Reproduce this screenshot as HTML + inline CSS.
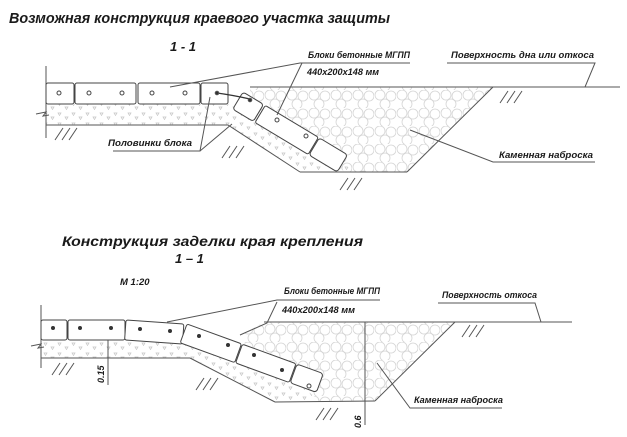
<!DOCTYPE html>
<html><head><meta charset="utf-8"><style>
html,body{margin:0;padding:0;background:#fff;}
svg{display:block;}
text{font-family:"Liberation Sans",sans-serif;font-weight:bold;font-style:italic;fill:#1a1a1a;}
</style></head><body>
<svg width="627" height="437" viewBox="0 0 627 437" xmlns="http://www.w3.org/2000/svg">
<defs>
<pattern id="rock" width="22" height="18" patternUnits="userSpaceOnUse">
<circle cx="6" cy="5" r="5" fill="none" stroke="#d4d4d4" stroke-width="0.8"/>
<circle cx="17" cy="6" r="5" fill="none" stroke="#d4d4d4" stroke-width="0.8"/>
<circle cx="11" cy="14" r="5" fill="none" stroke="#d4d4d4" stroke-width="0.8"/>
</pattern>
<pattern id="grav" width="14" height="10" patternUnits="userSpaceOnUse">
<path d="M2 3 l3 0 l-1.5 2.5z M9 7 l3 0 l-1.5 2.5z" fill="none" stroke="#c4c4c4" stroke-width="0.7"/>
</pattern>
</defs>
<g stroke="#555" stroke-width="1" fill="none">
<!-- TOP DIAGRAM -->
<polygon points="250,87 493,87 407,172 345,172 300,140 262,112 250,98" fill="url(#rock)" stroke="none"/>
<polygon points="46,104 228,104 240,108 350,168 345,172 300,172 228,125 46,125" fill="url(#grav)" stroke="none"/>
<line x1="46" y1="66" x2="46" y2="138"/>
<path d="M36 114 l10 -2 l-3 4 l6 -1"/>
<line x1="46" y1="125" x2="228" y2="125"/>
<line x1="228" y1="125" x2="300" y2="172"/>
<line x1="300" y1="172" x2="407" y2="172"/>
<line x1="407" y1="172" x2="493" y2="87"/>
<line x1="250" y1="87" x2="620" y2="87"/>
<g fill="#fff" stroke="#444">
<rect x="46" y="83" width="28" height="21" rx="2"/>
<rect x="75" y="83" width="61" height="21" rx="2"/>
<rect x="138" y="83" width="62" height="21" rx="2"/>
<rect x="201" y="83" width="27" height="21" rx="2"/>
<g transform="translate(243,92) rotate(31)">
<rect x="0" y="0" width="24" height="20" rx="3"/>
<rect x="26" y="0" width="62" height="20" rx="2"/>
<rect x="89" y="0" width="33" height="20" rx="3"/>
</g>
</g>
<g fill="#fff" stroke="#444">
<circle cx="59" cy="93" r="2"/><circle cx="89" cy="93" r="2"/><circle cx="122" cy="93" r="2"/>
<circle cx="152" cy="93" r="2"/><circle cx="185" cy="93" r="2"/>
<circle cx="277" cy="120" r="2"/><circle cx="306" cy="136" r="2"/>
</g>
<path d="M217 93 q15 2 33 6" stroke="#333" stroke-width="1.3"/>
<circle cx="217" cy="93" r="1.8" fill="#333"/><circle cx="250" cy="100" r="1.8" fill="#333"/>
<!-- hatches -->
<path d="M55 140 l8 -12 M62 140 l8 -12 M69 140 l8 -12"/>
<path d="M222 158 l8 -12 M229 158 l8 -12 M236 158 l8 -12"/>
<path d="M340 190 l8 -12 M347 190 l8 -12 M354 190 l8 -12"/>
<path d="M500 103 l8 -12 M507 103 l8 -12 M514 103 l8 -12"/>
<!-- leaders -->
<polyline points="410,63 300,63 170,87"/>
<line x1="302" y1="63" x2="277" y2="115"/>
<polyline points="447,63 595,63 585,87"/>
<polyline points="113,151 200,151 210,97"/>
<line x1="200" y1="151" x2="232" y2="124"/>
<polyline points="595,162 493,162 410,130"/>

<!-- BOTTOM DIAGRAM -->
<polygon points="264,322 455,322 375,401 318,401 300,380 250,352 240,336" fill="url(#rock)" stroke="none"/>
<polygon points="41,340 184,340 240,356 300,385 320,401 275,402 190,358 41,358" fill="url(#grav)" stroke="none"/>
<line x1="41" y1="305" x2="41" y2="368"/>
<path d="M31 346 l10 -2 l-3 4 l6 -1"/>
<line x1="41" y1="358" x2="190" y2="358"/>
<line x1="190" y1="358" x2="275" y2="402"/>
<line x1="275" y1="402" x2="375" y2="401"/>
<line x1="375" y1="401" x2="455" y2="322"/>
<line x1="264" y1="322" x2="572" y2="322"/>
<g fill="#fff" stroke="#444">
<rect x="41" y="320" width="26" height="20" rx="2"/>
<rect x="68" y="320" width="57" height="20" rx="2"/>
<g transform="translate(126,320) rotate(4)"><rect x="0" y="0" width="58" height="20" rx="2"/></g>
<g transform="translate(187,324) rotate(20)">
<rect x="0" y="0" width="58" height="20" rx="2"/>
<rect x="59" y="0" width="57" height="20" rx="2"/>
<rect x="117" y="0" width="28" height="20" rx="3"/>
</g>
</g>
<g fill="#333" stroke="none">
<circle cx="53" cy="328" r="2"/><circle cx="80" cy="328" r="2"/><circle cx="111" cy="328" r="2"/>
<circle cx="140" cy="329" r="2"/><circle cx="170" cy="331" r="2"/>
<circle cx="199" cy="336" r="2"/><circle cx="228" cy="345" r="2"/>
<circle cx="254" cy="355" r="2"/><circle cx="282" cy="370" r="2"/>
</g>
<circle cx="309" cy="386" r="2" fill="#fff" stroke="#444"/>
<path d="M52 375 l8 -12 M59 375 l8 -12 M66 375 l8 -12"/>
<path d="M196 390 l8 -12 M203 390 l8 -12 M210 390 l8 -12"/>
<path d="M316 420 l8 -12 M323 420 l8 -12 M330 420 l8 -12"/>
<path d="M462 337 l8 -12 M469 337 l8 -12 M476 337 l8 -12"/>
<line x1="108" y1="340" x2="108" y2="385"/>
<line x1="365" y1="322" x2="365" y2="425"/>
<polyline points="380,300 277,300 167,322"/>
<polyline points="277,302 267,323 240,335"/>
<polyline points="438,303 535,303 541,322"/>
<polyline points="502,408 410,408 377,363"/>
</g>
<g stroke="none">
<text x="9" y="23" font-size="15" textLength="381" lengthAdjust="spacingAndGlyphs">Возможная конструкция краевого участка защиты</text>
<text x="170" y="51" font-size="13">1 - 1</text>
<text x="308" y="58" font-size="9.5" textLength="102" lengthAdjust="spacingAndGlyphs">Блоки бетонные МГПП</text>
<text x="307" y="75" font-size="9" textLength="72" lengthAdjust="spacingAndGlyphs">440x200x148 мм</text>
<text x="451" y="58" font-size="9.5" textLength="143" lengthAdjust="spacingAndGlyphs">Поверхность дна или откоса</text>
<text x="108" y="146" font-size="9.5" textLength="84" lengthAdjust="spacingAndGlyphs">Половинки блока</text>
<text x="499" y="158" font-size="9.5" textLength="94" lengthAdjust="spacingAndGlyphs">Каменная наброска</text>

<text x="62" y="246" font-size="14" textLength="301" lengthAdjust="spacingAndGlyphs">Конструкция заделки края крепления</text>
<text x="175" y="263" font-size="13">1 – 1</text>
<text x="120" y="285" font-size="9.5">М 1:20</text>
<text x="284" y="294" font-size="9.5" textLength="96" lengthAdjust="spacingAndGlyphs">Блоки бетонные МГПП</text>
<text x="282" y="313" font-size="9" textLength="73" lengthAdjust="spacingAndGlyphs">440x200x148 мм</text>
<text x="442" y="298" font-size="9.5" textLength="95" lengthAdjust="spacingAndGlyphs">Поверхность откоса</text>
<text x="414" y="403" font-size="9.5" textLength="89" lengthAdjust="spacingAndGlyphs">Каменная наброска</text>
<text transform="translate(104,383) rotate(-90)" font-size="9">0.15</text>
<text transform="translate(361,428) rotate(-90)" font-size="9">0.6</text>
</g>
</svg>
</body></html>
